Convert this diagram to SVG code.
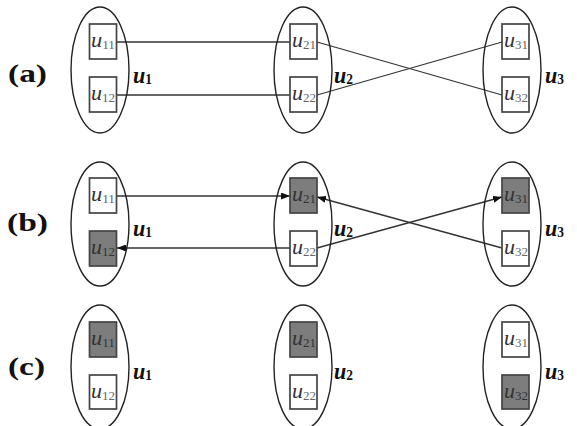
<svg xmlns="http://www.w3.org/2000/svg" width="577" height="426" viewBox="0 0 577 426">
<style>
.ell{fill:none;stroke:#222;stroke-width:1.4}
.box{fill:#fff;stroke:#444;stroke-width:1.7}
.box.on{fill:#7d7d7d}
.ln{fill:none;stroke:#333;stroke-width:1.3}
text{font-family:"Liberation Serif","Times New Roman",serif}
.bt{fill:#333}
.bt .u{font-style:italic;font-size:22px}
.bt .s{font-size:13px;fill:#666}
.on2 .s{fill:#333}
.gl{font-weight:bold;fill:#111}
.gl .u{font-style:italic;font-size:23px}
.gl .s{font-size:14px}
.pl{font-weight:bold;font-size:26px;fill:#111}
</style>
<defs>
<marker id="ah" markerWidth="9" markerHeight="7" refX="9" refY="3.5" orient="auto" markerUnits="userSpaceOnUse">
<path d="M0,0 L9,3.5 L0,7 z" fill="#111"/>
</marker>
</defs>

<text class="pl" x="8" y="82" textLength="39" lengthAdjust="spacingAndGlyphs">(a)</text>
<text class="pl" x="7" y="231" textLength="41" lengthAdjust="spacingAndGlyphs">(b)</text>
<text class="pl" x="8" y="375" textLength="37" lengthAdjust="spacingAndGlyphs">(c)</text>

<g id="connectors">
<line class="ln" x1="117" y1="42" x2="290" y2="42"/>
<line class="ln" x1="117" y1="95" x2="290" y2="95"/>
<line class="ln" x1="317" y1="42" x2="502" y2="95"/>
<line class="ln" x1="317" y1="95" x2="502" y2="42"/>
<line class="ln" x1="117" y1="196" x2="290" y2="196" marker-end="url(#ah)"/>
<line class="ln" x1="290" y1="248" x2="117" y2="248" marker-end="url(#ah)"/>
<line class="ln" x1="317" y1="248" x2="502" y2="197" marker-end="url(#ah)"/>
<line class="ln" x1="502" y1="248" x2="317" y2="197" marker-end="url(#ah)"/>
</g>

<!-- Row a -->
<g id="a-u1">
<ellipse class="ell" cx="100" cy="70" rx="29" ry="63"/>
<rect class="box" x="89.5" y="24" width="27" height="35"/>
<text class="bt" x="91" y="47" textLength="24" lengthAdjust="spacingAndGlyphs"><tspan class="u">u</tspan><tspan class="s" dy="2">11</tspan></text>
<rect class="box" x="89.5" y="77" width="27" height="35"/>
<text class="bt" x="91" y="100" textLength="24" lengthAdjust="spacingAndGlyphs"><tspan class="u">u</tspan><tspan class="s" dy="2">12</tspan></text>
<text class="gl" x="133" y="83" textLength="19" lengthAdjust="spacingAndGlyphs"><tspan class="u">u</tspan><tspan class="s" dy="1">1</tspan></text>
</g>
<g id="a-u2">
<ellipse class="ell" cx="303" cy="70" rx="29" ry="63"/>
<rect class="box" x="290" y="24" width="27" height="35"/>
<text class="bt" x="292" y="47" textLength="24" lengthAdjust="spacingAndGlyphs"><tspan class="u">u</tspan><tspan class="s" dy="2">21</tspan></text>
<rect class="box" x="290" y="77" width="27" height="35"/>
<text class="bt" x="292" y="100" textLength="24" lengthAdjust="spacingAndGlyphs"><tspan class="u">u</tspan><tspan class="s" dy="2">22</tspan></text>
<text class="gl" x="334" y="83" textLength="19" lengthAdjust="spacingAndGlyphs"><tspan class="u">u</tspan><tspan class="s" dy="1">2</tspan></text>
</g>
<g id="a-u3">
<ellipse class="ell" cx="512" cy="70" rx="29" ry="63"/>
<rect class="box" x="502" y="24" width="27" height="35"/>
<text class="bt" x="504" y="47" textLength="24" lengthAdjust="spacingAndGlyphs"><tspan class="u">u</tspan><tspan class="s" dy="2">31</tspan></text>
<rect class="box" x="502" y="77" width="27" height="35"/>
<text class="bt" x="504" y="100" textLength="24" lengthAdjust="spacingAndGlyphs"><tspan class="u">u</tspan><tspan class="s" dy="2">32</tspan></text>
<text class="gl" x="545" y="83" textLength="19" lengthAdjust="spacingAndGlyphs"><tspan class="u">u</tspan><tspan class="s" dy="1">3</tspan></text>
</g>

<!-- Row b -->
<g id="b-u1">
<ellipse class="ell" cx="100" cy="224" rx="29" ry="62"/>
<rect class="box" x="89.5" y="178" width="27" height="35"/>
<text class="bt" x="91" y="201" textLength="24" lengthAdjust="spacingAndGlyphs"><tspan class="u">u</tspan><tspan class="s" dy="2">11</tspan></text>
<rect class="box on" x="89.5" y="231" width="27" height="35"/>
<text class="bt on2" x="91" y="254" textLength="24" lengthAdjust="spacingAndGlyphs"><tspan class="u">u</tspan><tspan class="s" dy="2">12</tspan></text>
<text class="gl" x="133" y="236" textLength="19" lengthAdjust="spacingAndGlyphs"><tspan class="u">u</tspan><tspan class="s" dy="1">1</tspan></text>
</g>
<g id="b-u2">
<ellipse class="ell" cx="303" cy="224" rx="29" ry="62"/>
<rect class="box on" x="290" y="178" width="27" height="35"/>
<text class="bt on2" x="292" y="201" textLength="24" lengthAdjust="spacingAndGlyphs"><tspan class="u">u</tspan><tspan class="s" dy="2">21</tspan></text>
<rect class="box" x="290" y="231" width="27" height="35"/>
<text class="bt" x="292" y="254" textLength="24" lengthAdjust="spacingAndGlyphs"><tspan class="u">u</tspan><tspan class="s" dy="2">22</tspan></text>
<text class="gl" x="334" y="236" textLength="19" lengthAdjust="spacingAndGlyphs"><tspan class="u">u</tspan><tspan class="s" dy="1">2</tspan></text>
</g>
<g id="b-u3">
<ellipse class="ell" cx="512" cy="224" rx="29" ry="62"/>
<rect class="box on" x="502" y="178" width="27" height="35"/>
<text class="bt on2" x="504" y="201" textLength="24" lengthAdjust="spacingAndGlyphs"><tspan class="u">u</tspan><tspan class="s" dy="2">31</tspan></text>
<rect class="box" x="502" y="231" width="27" height="35"/>
<text class="bt" x="504" y="254" textLength="24" lengthAdjust="spacingAndGlyphs"><tspan class="u">u</tspan><tspan class="s" dy="2">32</tspan></text>
<text class="gl" x="545" y="236" textLength="19" lengthAdjust="spacingAndGlyphs"><tspan class="u">u</tspan><tspan class="s" dy="1">3</tspan></text>
</g>

<!-- Row c -->
<g id="c-u1">
<ellipse class="ell" cx="100" cy="367" rx="29" ry="62"/>
<rect class="box on" x="89.5" y="322" width="27" height="35"/>
<text class="bt on2" x="91" y="345" textLength="24" lengthAdjust="spacingAndGlyphs"><tspan class="u">u</tspan><tspan class="s" dy="2">11</tspan></text>
<rect class="box" x="89.5" y="375" width="27" height="34"/>
<text class="bt" x="91" y="398" textLength="24" lengthAdjust="spacingAndGlyphs"><tspan class="u">u</tspan><tspan class="s" dy="2">12</tspan></text>
<text class="gl" x="133" y="379" textLength="19" lengthAdjust="spacingAndGlyphs"><tspan class="u">u</tspan><tspan class="s" dy="1">1</tspan></text>
</g>
<g id="c-u2">
<ellipse class="ell" cx="303" cy="367" rx="29" ry="62"/>
<rect class="box on" x="290" y="322" width="27" height="35"/>
<text class="bt on2" x="292" y="345" textLength="24" lengthAdjust="spacingAndGlyphs"><tspan class="u">u</tspan><tspan class="s" dy="2">21</tspan></text>
<rect class="box" x="290" y="375" width="27" height="34"/>
<text class="bt" x="292" y="398" textLength="24" lengthAdjust="spacingAndGlyphs"><tspan class="u">u</tspan><tspan class="s" dy="2">22</tspan></text>
<text class="gl" x="334" y="379" textLength="19" lengthAdjust="spacingAndGlyphs"><tspan class="u">u</tspan><tspan class="s" dy="1">2</tspan></text>
</g>
<g id="c-u3">
<ellipse class="ell" cx="512" cy="367" rx="29" ry="62"/>
<rect class="box" x="502" y="322" width="27" height="35"/>
<text class="bt" x="504" y="345" textLength="24" lengthAdjust="spacingAndGlyphs"><tspan class="u">u</tspan><tspan class="s" dy="2">31</tspan></text>
<rect class="box on" x="502" y="375" width="27" height="34"/>
<text class="bt on2" x="504" y="398" textLength="24" lengthAdjust="spacingAndGlyphs"><tspan class="u">u</tspan><tspan class="s" dy="2">32</tspan></text>
<text class="gl" x="545" y="379" textLength="19" lengthAdjust="spacingAndGlyphs"><tspan class="u">u</tspan><tspan class="s" dy="1">3</tspan></text>
</g>
</svg>
